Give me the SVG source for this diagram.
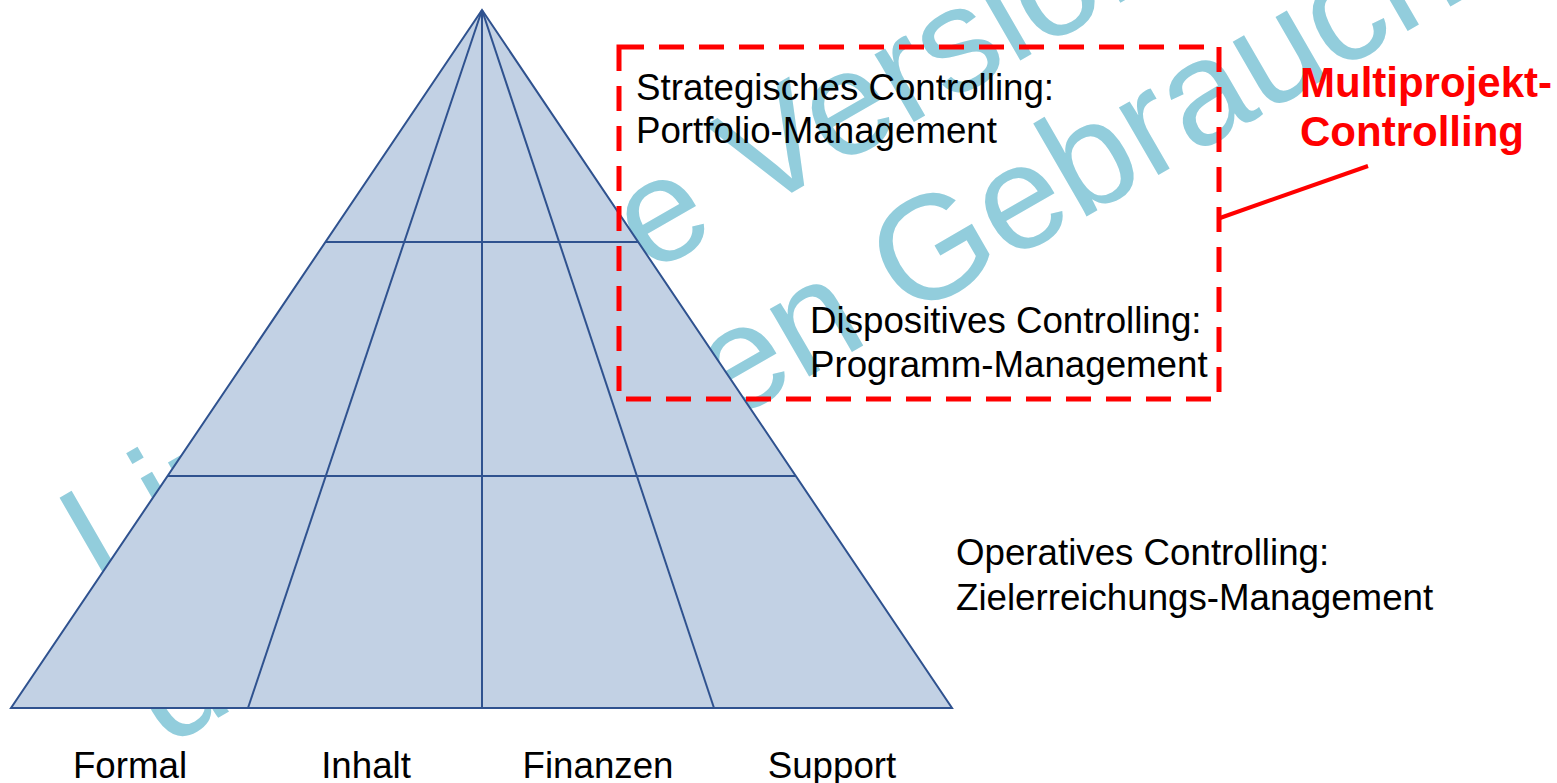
<svg xmlns="http://www.w3.org/2000/svg" width="1557" height="783" viewBox="0 0 1557 783">
<style>
.wm{font-family:"Liberation Sans",Arial,sans-serif;font-size:148px;fill:#92CDDC;text-anchor:middle}
.pyr{fill:#C2D1E4;stroke:#2F528F;stroke-width:2;stroke-linejoin:miter}
.grid{stroke:#2F528F;stroke-width:2;fill:none}
.t{font-family:"Liberation Sans",Arial,sans-serif;font-size:36.7px;fill:#000}
.tc{font-family:"Liberation Sans",Arial,sans-serif;font-size:36.7px;fill:#000;text-anchor:middle}
.red{font-family:"Liberation Sans",Arial,sans-serif;font-size:42px;font-weight:bold;fill:#FF0000}
.box{fill:none;stroke:#FF0000;stroke-width:5;stroke-dasharray:25 15}
.conn{stroke:#FF0000;stroke-width:4;fill:none}
</style>
<rect x="0" y="0" width="1557" height="783" fill="#FFFFFF"/>
<g id="watermark" transform="translate(734,226) rotate(-30)">
<text class="wm" x="0" y="0">Lizenzierte Version für</text>
<text class="wm" x="0" y="168">den eigenen Gebrauch</text>
</g>
<g id="pyramid">
<polygon class="pyr" points="482,10 952,708 11,708"/>
<line class="grid" x1="482" y1="10" x2="248" y2="708"/>
<line class="grid" x1="482" y1="10" x2="482" y2="708"/>
<line class="grid" x1="482" y1="10" x2="714" y2="708"/>
<line class="grid" x1="325.4" y1="242" x2="638.2" y2="242"/>
<line class="grid" x1="167.6" y1="476" x2="795.8" y2="476"/>
</g>
<g id="label-formal"><text class="tc" x="130" y="778">Formal</text></g>
<g id="label-inhalt"><text class="tc" x="366" y="778">Inhalt</text></g>
<g id="label-finanzen"><text class="tc" x="598" y="778">Finanzen</text></g>
<g id="label-support"><text class="tc" x="832" y="778">Support</text></g>
<g id="strategisch">
<text class="t" x="636" y="100">Strategisches Controlling:</text>
<text class="t" x="636" y="143">Portfolio-Management</text>
</g>
<g id="dispositiv">
<text class="t" x="810" y="333">Dispositives Controlling:</text>
<text class="t" x="810" y="376.5">Programm-Management</text>
</g>
<g id="operativ">
<text class="t" x="956" y="565">Operatives Controlling:</text>
<text class="t" x="956" y="609.5">Zielerreichungs-Management</text>
</g>
<g id="multiprojekt-box">
<rect class="box" x="619" y="47" width="600" height="352"/>
</g>
<g id="multiprojekt-label">
<text class="red" x="1300" y="97">Multiprojekt-</text>
<text class="red" x="1300" y="146">Controlling</text>
</g>
<g id="connectors">
<line class="conn" x1="1220" y1="218" x2="1368" y2="166"/>
</g>
</svg>
